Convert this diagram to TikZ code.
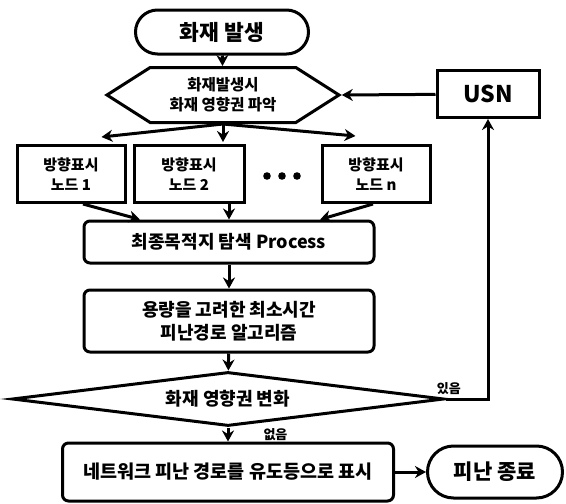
\documentclass[tikz,border=0pt]{standalone}
\usepackage{fontspec}
\setmainfont{Noto Sans CJK KR}
\usetikzlibrary{arrows.meta,shapes.misc,shapes.geometric,shapes.symbols}
\newcommand{\fsz}[2]{\fontsize{#1}{#2}\selectfont\bfseries}

\begin{document}
\begin{tikzpicture}[>={Stealth[length=11pt,width=12pt]}, x=1pt, y=-1pt, line width=3pt,
  term/.style={draw, rounded rectangle, minimum height=44pt, inner sep=0pt},
  hexa/.style={draw, signal, signal to=west and east, signal pointer angle=65, minimum width=232pt, minimum height=55pt, inner sep=0pt, align=center, font=\fsz{15.5}{20}},
  sbox/.style={draw, minimum height=57pt, inner sep=0pt, align=center, font=\fsz{15}{20}},
  rbox/.style={draw, rounded corners=6pt, minimum width=290pt, inner sep=0pt, align=center},
  decide/.style={draw, diamond, aspect=8, minimum width=432pt, minimum height=54pt, inner sep=0pt, font=\fsz{18}{20}},
  tag/.style={font=\fsz{13}{14}, inner sep=1pt}]
\useasboundingbox (0,0) rectangle (566,504);

\node[term, minimum width=173pt, font=\fsz{21.5}{24}] (start) at (222,32) {화재 발생};
\node[hexa] (hex) at (223,95) {화재발생시\\화재 영향권 파악};
\node[draw, minimum width=102pt, minimum height=47pt, font=\fsz{23}{24}] (usn) at (488,94) {USN};

\node[sbox, minimum width=108pt] (n1) at (71,174) {방향표시\\노드 1};
\node[sbox, minimum width=110pt] (n2) at (189,174) {방향표시\\노드 2};
\node[sbox, minimum width=108pt] (nn) at (376,174) {방향표시\\노드 n};
\coordinate (dots) at (282,176);
\foreach \i in {-1,0,1}
  \fill ([xshift=15pt*\i]dots) circle (3.8pt);

\node[rbox, minimum height=42pt, font=\fsz{18}{20}] (proc) at (229,242) {최종목적지 탐색 Process};
\node[rbox, minimum height=62pt, font=\fsz{18}{23}] (algo) at (229,321) {용량을 고려한 최소시간\\피난경로 알고리즘};
\node[decide] (dec) at (228,399) {화재 영향권 변화};
\node[draw, rounded corners=6pt, minimum width=331pt, minimum height=58pt, inner sep=0pt, font=\fsz{18.5}{22}] (fin) at (228,472) {네트워크 피난 경로를 유도등으로 표시};
\node[term, minimum width=135pt, minimum height=52pt, font=\fsz{21}{24}] (stop) at (495,472) {피난 종료};

\draw[->] (start) -- (hex);
\draw[->] (usn) -- (hex.east);
\draw[->] (hex.south) -- ([xshift=-25pt,yshift=7pt]n1.north east);
\draw[->] (hex.south) -- ([yshift=2pt]hex.south |- n2.north);
\draw[->] (hex.south) -- ([xshift=35pt,yshift=8pt]nn.north west);
\draw[->] ([xshift=12pt]n1.south) -- ([xshift=-89pt]proc.north);
\draw[->] (proc.north |- n2.south) -- (proc.north);
\draw[->] ([xshift=-3pt]nn.south) -- ([xshift=91pt]proc.north);
\draw[->] (proc) -- (algo);
\draw[->] (algo) -- (dec);
\draw[->] (dec) -- node[tag, right=33pt]{없음} (fin);
\draw[->] (dec.east) -- node[tag, pos=.08, above=2pt]{있음} (usn.south |- dec.east) -- (usn);
\draw[->] (fin) -- (stop);
\end{tikzpicture}
\end{document}
